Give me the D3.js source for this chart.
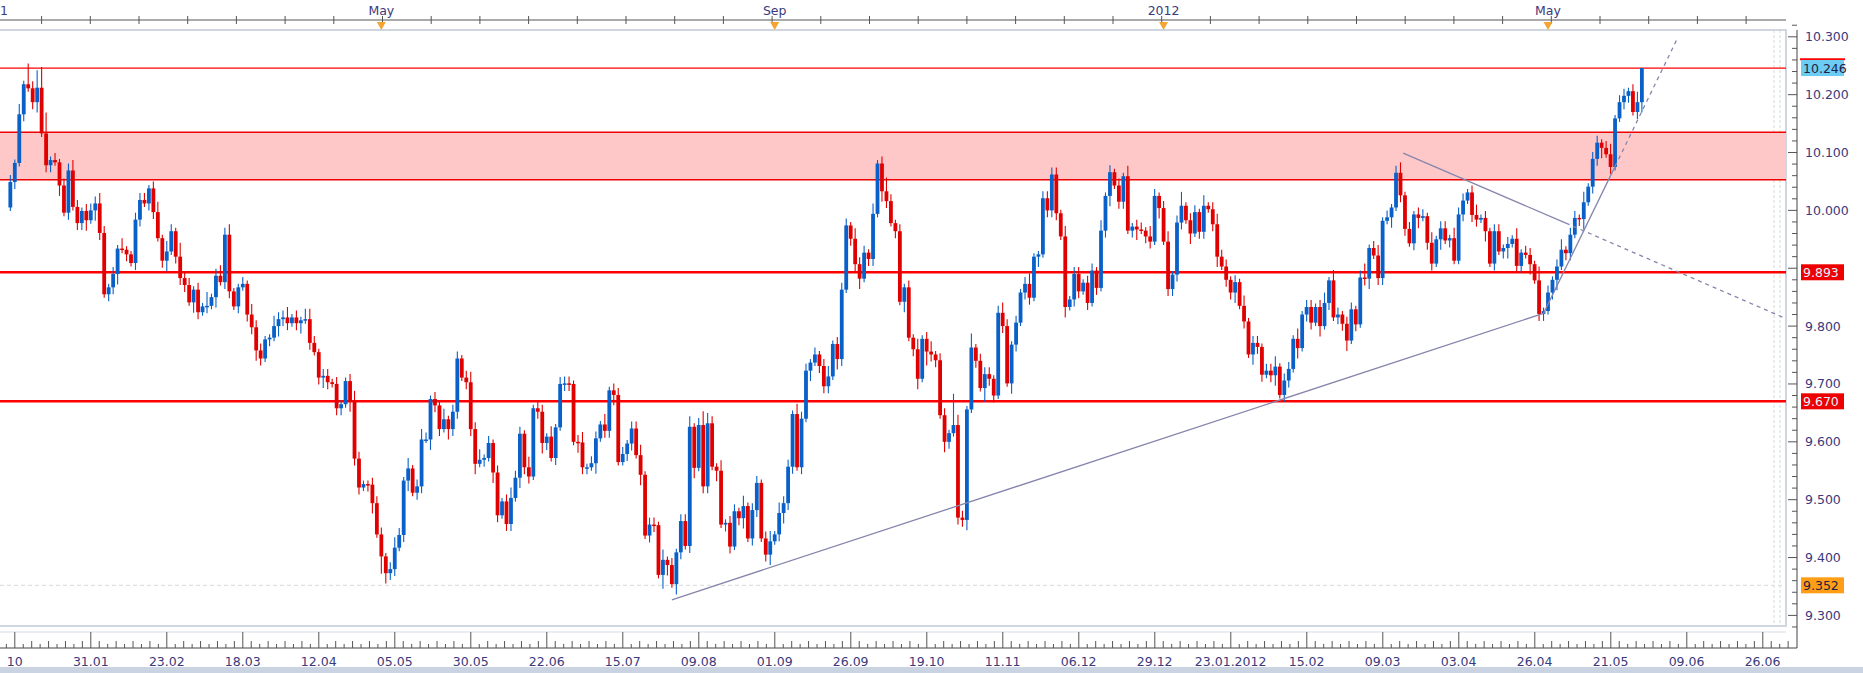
<!DOCTYPE html>
<html>
<head>
<meta charset="utf-8">
<script src="https://cdn.jsdelivr.net/npm/d3@7"></script>
<style>
body { margin: 0; background: #fff; }
text { font-family: "DejaVu Sans", Verdana, sans-serif; }
</style>
</head>
<body>
<script>
// daily closes (open = previous close)
var firstOpen = 10.005;
var closeA = [10.049,10.082,10.166,10.218,10.211,10.187,10.212,10.133,10.078,10.087,
  10.083,10.043,9.996,10.069,10.006,9.978,9.999,9.983,10.000,10.012,
  9.961,9.855,9.867,9.890,9.934,9.932,9.924,9.909,9.984,10.018,
  10.012,10.038,9.997,9.952,9.913,9.929,9.964,9.920,9.883,9.871,
  9.841,9.863,9.824,9.834,9.835,9.850,9.887,9.876,9.958,9.860,
  9.834,9.867,9.873,9.820,9.798,9.758,9.744,9.777,9.780,9.800,
  9.812,9.815,9.805,9.815,9.805,9.810,9.812,9.771,9.755,9.711,
  9.714,9.703,9.700,9.658,9.665,9.705,9.670,9.571,9.521,9.527,
  9.526,9.494,9.440,9.402,9.373,9.380,9.417,9.439,9.533,9.554,
  9.512,9.523,9.604,9.604,9.674,9.663,9.622,9.639,9.622,9.652,
  9.744,9.711,9.703,9.622,9.562,9.569,9.572,9.598,9.547,9.473,
  9.497,9.458,9.503,9.538,9.614,9.556,9.540,9.658,9.652,9.598,
  9.609,9.572,9.625,9.700,9.701,9.700,9.600,9.599,9.556,9.556,
  9.563,9.606,9.630,9.619,9.689,9.681,9.565];
var closeB = [9.579,9.597,9.623,9.577,9.543,9.438,9.457,9.456,9.370,9.396,
  9.387,9.354,9.409,9.463,9.420,9.626,9.555,9.629,9.523,9.632,
  9.557,9.550,9.457,9.460,9.419,9.480,9.468,9.489,9.433,9.482,
  9.529,9.433,9.405,9.428,9.440,9.477,9.494,9.557,9.648,9.556,
  9.640,9.723,9.737,9.751,9.731,9.696,9.713,9.769,9.743,9.863,
  9.974,9.951,9.907,9.882,9.927,9.916,9.994,10.081,10.033,10.016,
  9.978,9.964,9.842,9.867,9.780,9.760,9.709,9.778,9.756,9.751,
  9.741,9.646,9.600,9.615,9.629,9.469,9.465,9.656,9.763,9.740,
  9.693,9.717,9.709,9.680,9.823,9.800,9.701,9.768,9.806,9.858];
var closeC = [9.873,9.849,9.920,9.924,10.021,10.000,10.062,9.995,9.955,9.833,
  9.846,9.890,9.860,9.875,9.840,9.896,9.866,9.965,10.025,10.066,
  10.043,10.015,10.059,9.965,9.972,9.967,9.965,9.955,9.946,10.025,
  10.004,9.946,9.864,9.889,9.979,10.008,9.983,9.960,9.997,9.963,
  10.008,10.002,9.976,9.920,9.903,9.880,9.858,9.876,9.835,9.808,
  9.751,9.771,9.764,9.716,9.723,9.715,9.730,9.681,9.706,9.726,
  9.778,9.762,9.820,9.833,9.806,9.833,9.800,9.840,9.879,9.815,
  9.820,9.804,9.775,9.829,9.803,9.884,9.882,9.935,9.922,9.883,
  9.982];
var closeD = [9.988,10.005,10.065,10.026,9.968,9.943,9.993,9.987,9.990,9.944,
  9.908,9.950,9.969,9.948,9.952,9.913,9.993,10.017,10.031,9.992,
  9.984,9.987,9.964,9.908,9.964,9.929,9.935,9.942,9.951,9.904,
  9.927,9.923,9.907,9.879,9.821,9.826,9.858,9.880,9.903,9.932,
  9.926,9.958,9.987,9.985,10.014,10.041,10.089,10.117,10.108,10.097,
  10.075,10.159,10.187,10.198,10.206,10.170,10.187,10.246];

// wick lengths per bar, one digit per bar, in units of 0.006
var wickUpA = "21316256612122321222321213112221231321422121412323112132211322312133212212112321122212321312321213122123231212123221312213122212312213122";
var wickDnA = "12121231221312122313212231212212212312221321213122121223212132212312123212213221231532212312213221322122312132122132212321212213221312231";
var wickUpB = "212231221312122312432131221312212313221322121231222132213124212121312312219321412221232121231122221312212213121";
var wickDnB = "122131221431321231221312212312212312322121312221321223122132121312314221321223121422121321221312221312212";
var wickUpC = "2131221321231241221312322121312212231221312212313212212412312123121221312213221231212";
var wickDnC = "1212312212312213122221312212312231213221231221312213121223121231221312212312213121";
var wickUpD = "2121312214121231221312212312212312123121221312212121312131212";
var wickDnD = "1212213121231221312212312212312231211221231221312213122121223";

var xTickLabels = ["10","31.01","23.02","18.03","12.04","05.05","30.05","22.06","15.07","09.08","01.09","26.09",
  "19.10","11.11","06.12","29.12","23.01.2012","15.02","09.03","03.04","26.04","21.05","09.06","26.06"];
var monthLabels = ["May","Sep","2012","May"];
var monthBars = [82, 170, 257, 343];
var priceTicks = [10.3,10.2,10.1,10.0,9.9,9.8,9.7,9.6,9.5,9.4,9.3];
var levels = [10.246, 9.893, 9.670];
var zone = [10.053, 10.135];
var dashedLevel = 9.352;
// drawn trend lines: [barA, priceA, barB, priceB, dashed]
var trendLines = [
  [147, 9.327, 342, 9.822, false],
  [342, 9.822, 358, 10.076, false],
  [358, 10.076, 372, 10.298, true],
  [310.6, 10.099, 347, 9.978, false],
  [347, 9.978, 396.2, 9.813, true]
];

var W = 1863, H = 673;
var plot = {left: 0, right: 1786, top: 30, bottom: 626};
var svg = d3.select("body").append("svg").attr("width", W).attr("height", H).style("display", "block");

var closes = closeA.concat(closeB, closeC, closeD);
var ups = (wickUpA.padEnd(closeA.length, "2") + wickUpB.padEnd(closeB.length, "2") + wickUpC.padEnd(closeC.length, "2") + wickUpD.padEnd(closeD.length, "2"));
var dns = (wickDnA.padEnd(closeA.length, "2") + wickDnB.padEnd(closeB.length, "2") + wickDnC.padEnd(closeC.length, "2") + wickDnD.padEnd(closeD.length, "2"));
var lastBar = 364;
var bars = closes.map(function (c, k) {
  var o = k === 0 ? firstOpen : closes[k - 1];
  var up = +ups[k] * 0.006, dn = +dns[k] * 0.006;
  return {i: lastBar - (closes.length - 1 - k), o: o, c: c,
    h: Math.max(o, c) + up, l: Math.min(o, c) - dn};
});
bars[bars.length - 1].h = 10.246;

var x = d3.scaleLinear().domain([0, 364]).range([14.8, 14.8 + 4.47 * 364]);
var y = d3.scaleLinear().domain([9.3, 10.3]).range([615.4, 36.8]);

// frame
svg.append("rect").attr("x", 0).attr("y", 667).attr("width", W).attr("height", 6).attr("fill", "#c9d3e2");
svg.append("rect").attr("x", plot.left - 1).attr("y", plot.top).attr("width", plot.right - plot.left + 1)
  .attr("height", plot.bottom - plot.top).attr("fill", "#fff").attr("stroke", "#cfd6e0").attr("stroke-width", 2);

var clip = svg.append("clipPath").attr("id", "clip").append("rect")
  .attr("x", plot.left).attr("y", plot.top + 1).attr("width", plot.right - plot.left).attr("height", plot.bottom - plot.top - 2);
var g = svg.append("g").attr("clip-path", "url(#clip)");

// vertical dashed marks at the right
[1774, 1780].forEach(function (vx) {
  g.append("line").attr("x1", vx).attr("x2", vx).attr("y1", plot.top).attr("y2", plot.bottom)
    .attr("stroke", "#d8d8d8").attr("stroke-dasharray", "3,2");
});

// zone
g.append("rect").attr("x", plot.left).attr("width", plot.right - plot.left)
  .attr("y", y(zone[1])).attr("height", y(zone[0]) - y(zone[1])).attr("fill", "#ffc8c8");
zone.forEach(function (v) {
  g.append("line").attr("x1", plot.left).attr("x2", plot.right).attr("y1", y(v)).attr("y2", y(v))
    .attr("stroke", "#f00000").attr("stroke-width", 1.5);
});
g.append("line").attr("x1", plot.left).attr("x2", plot.right).attr("y1", y(dashedLevel)).attr("y2", y(dashedLevel))
  .attr("stroke", "#d9d9d9").attr("stroke-dasharray", "4,3");
levels.forEach(function (v, k) {
  g.append("line").attr("x1", plot.left).attr("x2", plot.right).attr("y1", y(v)).attr("y2", y(v))
    .attr("stroke", "#ff0000").attr("stroke-width", k === 0 ? 1.2 : 2.6);
});

// candles
var cg = g.selectAll(".bar").data(bars).enter().append("g");
cg.append("line")
  .attr("x1", function (d) { return x(d.i); }).attr("x2", function (d) { return x(d.i); })
  .attr("y1", function (d) { return y(d.h); }).attr("y2", function (d) { return y(d.l); })
  .attr("stroke", function (d) { return d.c >= d.o ? "#0860c8" : "#e00000"; }).attr("stroke-width", 1.1);
cg.append("rect")
  .attr("x", function (d) { return x(d.i) - 1.9; }).attr("width", 3.8)
  .attr("y", function (d) { return y(Math.max(d.o, d.c)); })
  .attr("height", function (d) { return Math.max(1.5, Math.abs(y(d.o) - y(d.c))); })
  .attr("fill", function (d) { return d.c >= d.o ? "#0860c8" : "#e00000"; });

// trend lines
trendLines.forEach(function (t) {
  g.append("line").attr("x1", x(t[0])).attr("y1", y(t[1])).attr("x2", x(t[2])).attr("y2", y(t[3]))
    .attr("stroke", "#8585ac").attr("stroke-width", 1.3)
    .attr("stroke-dasharray", t[4] ? "4,4" : null);
});

// right price axis
var axisX = 1797;
svg.append("line").attr("x1", axisX).attr("x2", axisX).attr("y1", plot.top).attr("y2", 648).attr("stroke", "#444");
d3.range(9.28, 10.321, 0.02).forEach(function (v) {
  var major = Math.abs(v * 10 - Math.round(v * 10)) < 0.01;
  svg.append("line").attr("x1", axisX - (major ? 9 : 5)).attr("x2", axisX).attr("y1", y(v)).attr("y2", y(v))
    .attr("stroke", "#555");
});
var boxes = [[10.246, "#6cccf4", "#222244"], [9.893, "#ee0000", "#d8f4ff"], [9.670, "#ee0000", "#d8f4ff"], [9.352, "#ff9e16", "#222244"]];
// tick labels hidden where a price box covers them
var shownTicks = priceTicks.filter(function (t) {
  return boxes.every(function (b) { return Math.abs(y(t) - y(b[0])) > 13; });
});
svg.selectAll(".ptick").data(shownTicks).enter().append("text")
  .attr("x", 1805).attr("y", function (d) { return y(d) + 4.5; })
  .attr("font-size", 12.5).attr("fill", "#3a3a7c").text(function (d) { return d.toFixed(3); });

svg.append("line").attr("x1", 1800).attr("x2", 1845).attr("y1", y(10.261)).attr("y2", y(10.261)).attr("stroke", "#ff0000").attr("stroke-width", 2);
boxes.forEach(function (b) {
  svg.append("rect").attr("x", 1801).attr("y", y(b[0]) - 8).attr("width", 43).attr("height", 16).attr("fill", b[1]);
  svg.append("text").attr("x", 1803).attr("y", y(b[0]) + 4.5).attr("font-size", 12.5).attr("fill", b[2]).text(b[0].toFixed(3));
});

// bottom axis
var bottomLine = 648;
svg.append("line").attr("x1", 0).attr("x2", axisX).attr("y1", bottomLine).attr("y2", bottomLine).attr("stroke", "#444");
svg.append("line").attr("x1", 0).attr("x2", plot.right).attr("y1", 632).attr("y2", 632).attr("stroke", "#d5dbe5");
d3.range(-1, 24 * 9 + 2).forEach(function (k) {
  var px = 14.8 + k * 76 / 9;
  if (px < 0 || px > 1790) return;
  var len = k % 9 === 0 ? 16 : (k % 2 === 0 ? 7 : 4);
  svg.append("line").attr("x1", px).attr("x2", px).attr("y1", bottomLine - len).attr("y2", bottomLine).attr("stroke", "#555");
});
svg.selectAll(".xtick").data(xTickLabels).enter().append("text")
  .attr("x", function (d, k) { return x(17 * k); }).attr("y", 666)
  .attr("text-anchor", "middle").attr("font-size", 12.5).attr("fill", "#3a3a7c").text(function (d) { return d; });

// top axis
svg.append("line").attr("x1", 0).attr("x2", plot.right).attr("y1", 20).attr("y2", 20).attr("stroke", "#555");
d3.range(0, 38).forEach(function (k) {
  var px = 41.6 + k * 48.7;
  if (px > plot.right) return;
  svg.append("line").attr("x1", px).attr("x2", px).attr("y1", 16).attr("y2", 24).attr("stroke", "#555");
});
svg.append("text").attr("x", 0).attr("y", 15).attr("font-size", 12.5).attr("fill", "#3a3a7c").text("1");
monthLabels.forEach(function (m, k) {
  var px = x(monthBars[k]);
  svg.append("text").attr("x", px).attr("y", 15).attr("text-anchor", "middle").attr("font-size", 12.5)
    .attr("fill", "#3a3a7c").text(m);
  svg.append("path").attr("d", "M" + (px - 4.5) + ",22L" + (px + 4.5) + ",22L" + px + ",30Z").attr("fill", "#f5a431");
});
</script>
</body>
</html>
